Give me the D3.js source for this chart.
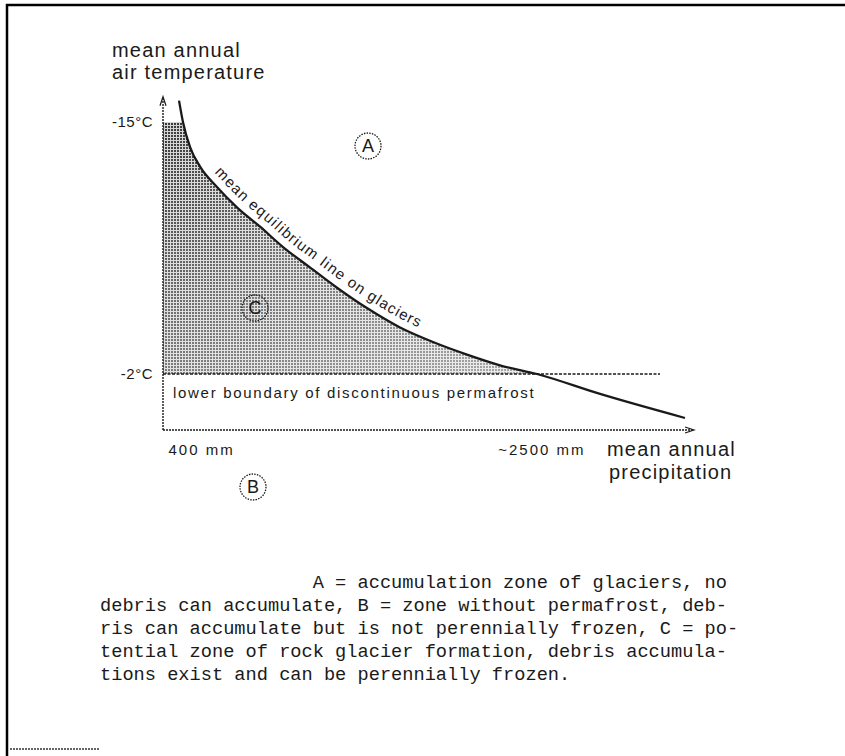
<!DOCTYPE html>
<html>
<head>
<meta charset="utf-8">
<script src="https://cdn.jsdelivr.net/npm/d3@7"></script>
<style>
  body { margin: 0; background: #fff; }
  svg { display: block; }
</style>
</head>
<body>
<svg width="845" height="756"></svg>
<script>
// equilibrium line (precipitation mm / temperature degC)
var precip = [490, 512, 552, 608, 703, 815, 945, 1074, 1225, 1377, 1545, 1731, 1916, 2107, 2292, 2500, 2854, 3331];
var temp   = [-16.1, -15, -13.7, -12.7, -11.65, -10.6, -9.6, -8.55, -7.5, -6.45, -5.4, -4.4, -3.65, -3.0, -2.45, -2, -0.97, 0.27];

var yTicks = [-15, -2];
var yTickLabels = ['-15°C', '-2°C'];
var xTicks = [400, 2500];
var xTickLabels = ['400 mm', '~2500 mm'];

var curveLabel = ['mean', 'equilibrium', 'line', 'on', 'glaciers'];

var caption = [
    '                   A = accumulation zone of glaciers, no',
    'debris can accumulate, B = zone without permafrost, deb-',
    'ris can accumulate but is not perennially frozen, C = po-',
    'tential zone of rock glacier formation, debris accumula-',
    'tions exist and can be perennially frozen.'
];

var svg = d3.select('svg');
var sans = 'Liberation Sans, Arial, sans-serif';
var ink = '#1a1a1a';

var x = d3.scaleLinear().domain([400, 2500]).range([163, 537]);
var y = d3.scaleLinear().domain([-15, -2]).range([122, 374]);

var pts = precip.map(function (p, i) { return { p: p, t: temp[i] }; });

// frame of the scanned page
svg.append('line').attr('x1', 6).attr('x2', 845).attr('y1', 5).attr('y2', 5)
    .attr('stroke', '#000').attr('stroke-width', 2.5);
svg.append('line').attr('x1', 7).attr('x2', 7).attr('y1', 4).attr('y2', 756)
    .attr('stroke', '#000').attr('stroke-width', 2.5);

var defs = svg.append('defs');
var pat = defs.append('pattern').attr('id', 'dots')
    .attr('width', 3).attr('height', 3).attr('patternUnits', 'userSpaceOnUse');
pat.append('rect').attr('width', 3).attr('height', 3).attr('fill', '#d4d4d4');
pat.append('rect').attr('width', 2).attr('height', 2).attr('fill', '#3a3a3a');
var grad = defs.append('linearGradient').attr('id', 'fade')
    .attr('x1', 0).attr('y1', 0).attr('x2', 1).attr('y2', 1);
grad.append('stop').attr('offset', '0%').attr('stop-color', '#fff').attr('stop-opacity', 1);
grad.append('stop').attr('offset', '40%').attr('stop-color', '#fff').attr('stop-opacity', 0.72);
grad.append('stop').attr('offset', '100%').attr('stop-color', '#fff').attr('stop-opacity', 0.42);
var mask = defs.append('mask').attr('id', 'fadeMask');
mask.append('rect').attr('x', 163).attr('y', 122).attr('width', 380).attr('height', 254).attr('fill', 'url(#fade)');

var line = d3.line().curve(d3.curveMonotoneX)
    .x(function (d) { return x(d.p); }).y(function (d) { return y(d.t); });

// zone C: between the y axis, -15 degC, the curve and -2 degC
var inside = pts.filter(function (d) { return d.t >= -15 && d.t <= -2; });
svg.append('path')
    .attr('d', line(inside) + 'L' + x(400) + ',' + y(-2) + 'L' + x(400) + ',' + y(-15) + 'Z')
    .attr('fill', 'url(#dots)')
    .attr('mask', 'url(#fadeMask)');

// -2 degC dashed line
svg.append('line')
    .attr('x1', x(400)).attr('x2', 660).attr('y1', y(-2)).attr('y2', y(-2))
    .attr('stroke', ink).attr('stroke-width', 1.4).attr('stroke-dasharray', '3,1.5');

// axes
var yTop = -16.25, yBottom = 0.89, xRight = 3376;
svg.append('line')
    .attr('x1', x(400)).attr('x2', x(400)).attr('y1', y(yBottom)).attr('y2', y(yTop))
    .attr('stroke', ink).attr('stroke-width', 1.4).attr('stroke-dasharray', '2,1');
svg.append('line')
    .attr('x1', x(400)).attr('x2', x(xRight)).attr('y1', y(yBottom)).attr('y2', y(yBottom))
    .attr('stroke', ink).attr('stroke-width', 1.4).attr('stroke-dasharray', '2,1');
svg.append('path')
    .attr('d', 'M' + (x(400) - 3) + ',' + (y(yTop) + 8) + 'L' + x(400) + ',' + (y(yTop) - 1) + 'L' + (x(400) + 3) + ',' + (y(yTop) + 8))
    .attr('fill', 'none').attr('stroke', ink).attr('stroke-width', 1.2);
svg.append('path')
    .attr('d', 'M' + (x(xRight) - 8) + ',' + (y(yBottom) - 3) + 'L' + (x(xRight) + 1) + ',' + y(yBottom) + 'L' + (x(xRight) - 8) + ',' + (y(yBottom) + 3))
    .attr('fill', 'none').attr('stroke', ink).attr('stroke-width', 1.2);

var yAxis = svg.append('g').attr('transform', 'translate(157,0)')
    .call(d3.axisLeft(y).tickValues(yTicks).tickSize(0).tickPadding(4)
        .tickFormat(function (d, i) { return yTickLabels[i]; }));
yAxis.select('.domain').remove();
yAxis.selectAll('text').attr('font-family', sans).attr('font-size', 15)
    .attr('letter-spacing', 0.5).attr('fill', ink);

var xAxis = svg.append('g').attr('transform', 'translate(0,444)')
    .call(d3.axisBottom(x).tickValues(xTicks).tickSize(0).tickPadding(0)
        .tickFormat(function (d, i) { return xTickLabels[i]; }));
xAxis.select('.domain').remove();
xAxis.selectAll('text').attr('font-family', sans).attr('font-size', 15).attr('fill', ink)
    .attr('letter-spacing', 2)
    .attr('text-anchor', function (d, i) { return i === 0 ? 'start' : 'end'; })
    .attr('dx', function (d, i) { return i === 0 ? 5 : 48; });

// equilibrium line
svg.append('path').attr('id', 'eqline')
    .attr('d', line(pts))
    .attr('fill', 'none').attr('stroke', ink).attr('stroke-width', 2.3);

// label set word by word along the curve
var offset = 84;
curveLabel.forEach(function (w) {
    var t = svg.append('text')
        .attr('font-family', sans).attr('font-size', 15).attr('fill', ink).attr('dy', -8)
        .attr('letter-spacing', 1.3);
    t.append('textPath').attr('href', '#eqline').attr('startOffset', offset).text(w);
    offset += t.node().getComputedTextLength() + 5.5;
});

// axis titles
function label(txt, lx, ly) {
    svg.append('text').attr('x', lx).attr('y', ly)
        .attr('font-family', sans).attr('font-size', 20).attr('letter-spacing', 1.2)
        .attr('fill', ink).text(txt);
}
label('mean annual', 112, 57);
label('air temperature', 112, 79);
label('mean annual', 607, 456);
label('precipitation', 609, 479);
svg.append('text').attr('x', 173).attr('y', 398)
    .attr('font-family', sans).attr('font-size', 15).attr('fill', ink)
    .attr('letter-spacing', 1.7)
    .text('lower boundary of discontinuous permafrost');

// circled zone letters
var zones = [
    { k: 'A', cx: 368, cy: 146 },
    { k: 'C', cx: 255, cy: 308 },
    { k: 'B', cx: 253, cy: 487 }
];
var z = svg.selectAll('.zone').data(zones).enter().append('g').attr('class', 'zone')
    .attr('transform', function (d) { return 'translate(' + d.cx + ',' + d.cy + ')'; });
z.append('circle').attr('r', 13).attr('fill', 'none').attr('stroke', ink)
    .attr('stroke-width', 1.3).attr('stroke-dasharray', '1.5,1.2');
z.append('text').attr('text-anchor', 'middle').attr('dy', '0.36em')
    .attr('font-family', sans).attr('font-size', 18).attr('fill', ink)
    .text(function (d) { return d.k; });

// caption
svg.append('g').selectAll('text').data(caption).enter().append('text')
    .attr('x', 100).attr('y', function (d, i) { return 588 + i * 23; })
    .attr('font-family', 'Liberation Mono, DejaVu Sans Mono, monospace')
    .attr('font-size', 18.67).attr('fill', ink)
    .attr('xml:space', 'preserve').style('white-space', 'pre')
    .text(function (d) { return d; });

// footnote rule
svg.append('line').attr('x1', 10).attr('x2', 100).attr('y1', 749).attr('y2', 749)
    .attr('stroke', '#333').attr('stroke-width', 1.5).attr('stroke-dasharray', '2,1');
</script>
</body>
</html>
